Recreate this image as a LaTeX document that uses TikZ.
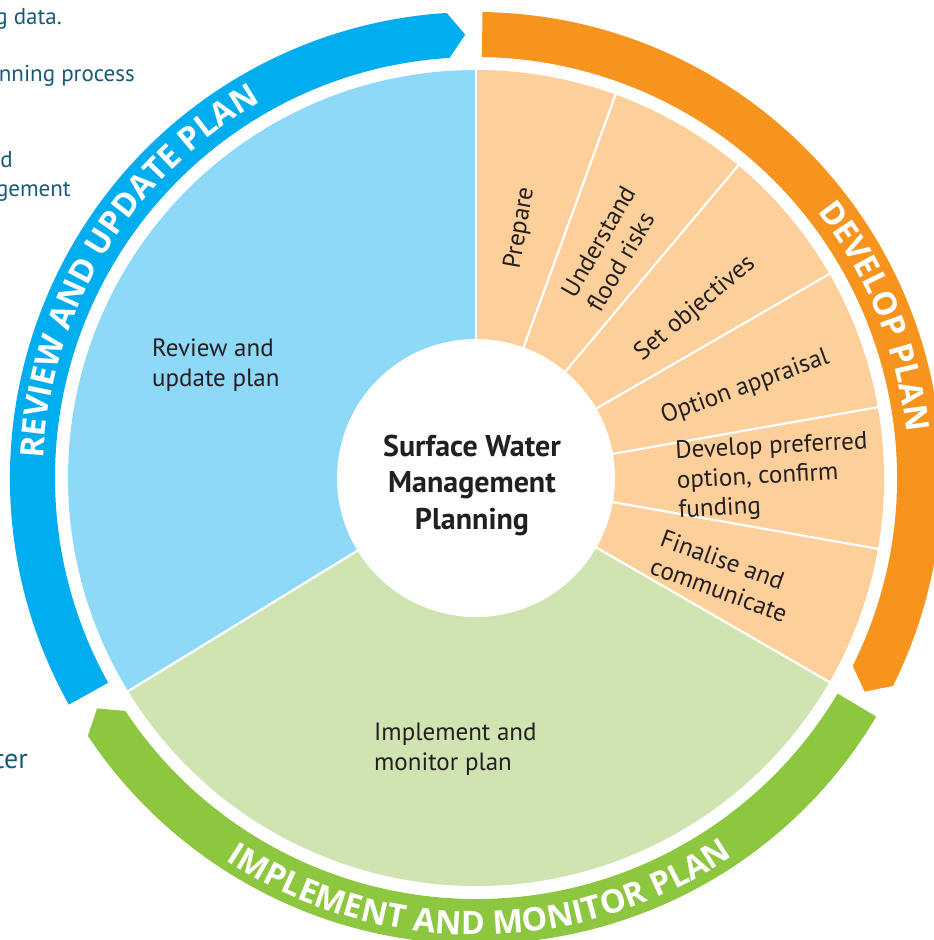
\documentclass[tikz,border=0pt]{standalone}
\usepackage{fontspec}
\setmainfont{PT Sans}
\newfontfamily\bandfam{Open Sans}
\usetikzlibrary{decorations.text}
\definecolor{bandblue}{HTML}{00AEEF}
\definecolor{pieblue}{HTML}{8ED8F8}
\definecolor{bandorange}{HTML}{F7941E}
\definecolor{piepeach}{HTML}{FDCF9B}
\definecolor{bandgreen}{HTML}{8DC63F}
\definecolor{piegreen}{HTML}{D0E4B2}
\definecolor{ink}{HTML}{231F20}
\definecolor{teal}{HTML}{165B78}
\newcommand\bandfont{\bandfam\fontsize{32.5}{32.5}\selectfont\bfseries}
\begin{document}
\begin{tikzpicture}[x=1pt,y=1pt,
  lbl/.style={text=ink, font=\fontsize{25}{29.5}\selectfont, align=left, inner sep=0pt},
  hubtxt/.style={text=ink, font=\fontsize{30}{36.5}\selectfont\bfseries, align=center, inner sep=0pt},
  sidetxt/.style={text=teal, font=\fontsize{23}{26}\selectfont, inner sep=0pt, anchor=base east},
  divider/.style={white, line width=2.2pt},
  bandtext/.style={decorate, decoration={text along path, text align=center, text color=white, text={|\bandfont|#1}}}
]
\useasboundingbox (-476,-462) rectangle (458,478);
% pie sectors
\fill[pieblue] (0,0) -- (90:408pt) arc[start angle=90, end angle=211.5, radius=408pt] -- cycle;
\fill[piepeach] (0,0) -- (-30:408pt) arc[start angle=-30, end angle=90, radius=408pt] -- cycle;
\fill[piegreen] (0,0) -- (-148.5:408pt) arc[start angle=-148.5, end angle=-30, radius=408pt] -- cycle;
\foreach \a in {90,70,50,30,10,-10,-30,211.5}
  \draw[divider] (\a:130pt) -- (\a:409pt);
% hub
\node[circle, fill=white, minimum size=278pt, inner sep=0pt] (hub) at (0,0) {};
\node[hubtxt] (hubt) at (-4,-7) {Surface Water\\Management\\Planning};
% bands
\fill[bandorange] (89.2:466pt) arc[start angle=89.2, end angle=-26.5, radius=466pt]
  -- (-28.8:443.5pt) -- (-26.5:421pt) arc[start angle=-26.5, end angle=89.2, radius=421pt] -- cycle;
\fill[bandgreen] (-30.8:466pt) arc[start angle=-30.8, end angle=-146.4, radius=466pt]
  -- (-148.7:443.5pt) -- (-146.4:421pt) arc[start angle=-146.4, end angle=-30.8, radius=421pt] -- cycle;
\fill[bandblue] (209.1:466pt) arc[start angle=209.1, end angle=93.6, radius=466pt]
  -- (91.4:443.5pt) -- (93.6:421pt) arc[start angle=93.6, end angle=209.1, radius=421pt] -- cycle;
% band texts
\path[bandtext={REVIEW AND UPDATE PLAN}] (198.6:433pt) arc[start angle=198.6, end angle=98.6, radius=433pt];
\path[bandtext={DEVELOP PLAN}] (72:433pt) arc[start angle=72, end angle=-28, radius=433pt];
\path[bandtext={IMPLEMENT AND MONITOR PLAN}] (-139.5:457pt) arc[start angle=-139.5, end angle=-39.5, radius=457pt];
% sector labels
\node[lbl, anchor=north west] (review) at (-324,139) {Review and\\update plan};
\node[lbl, anchor=north west] (implement) at (-102,-245) {Implement and\\monitor plan};
\node[lbl, rotate=80] (prepare) at (80:254pt) {Prepare};
\node[lbl, rotate=60] (understand) at (59.5:266pt) {Understand\\flood risks};
\node[lbl, rotate=40] (objectives) at (37.7:277pt) {Set objectives};
\node[lbl, rotate=20] (appraisal) at (18.6:284pt) {Option appraisal};
\node[lbl, rotate=3] (preferred) at (297,1) {Develop preferred\\option, confirm\\funding};
\node[lbl, rotate=-20] (finalise) at (248,-98) {Finalise and\\communicate};
% clipped side texts
\node[sidetxt] (s1) at (-414,453) {g data.};
\node[sidetxt] (s2) at (-341,396) {nning process};
\node[sidetxt] (s3) at (-463,310) {d};
\node[sidetxt] (s4) at (-405,281) {gement};
\node[sidetxt, font=\fontsize{28}{30}\selectfont] (s5) at (-448,-290) {ter};
\end{tikzpicture}
\end{document}
